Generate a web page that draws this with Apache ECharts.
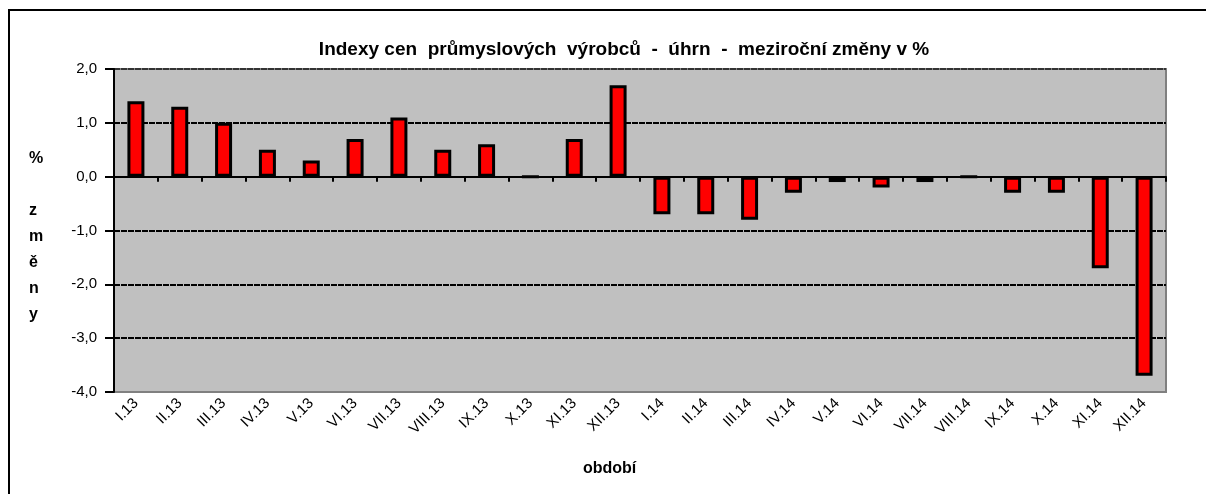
<!DOCTYPE html>
<html>
<head>
<meta charset="utf-8">
<script src="https://cdn.jsdelivr.net/npm/echarts@6/dist/echarts.min.js"></script>
<style>html,body{margin:0;padding:0;background:#fff}#c{width:1206px;height:494px}</style>
</head>
<body>
<div id="c"></div>
<script>
const categories = ['I.13','II.13','III.13','IV.13','V.13','VI.13','VII.13','VIII.13','IX.13','X.13','XI.13','XII.13',
  'I.14','II.14','III.14','IV.14','V.14','VI.14','VII.14','VIII.14','IX.14','X.14','XI.14','XII.14'];
const values = [1.4,1.3,1.0,0.5,0.3,0.7,1.1,0.5,0.6,0.0,0.7,1.7,
  -0.7,-0.7,-0.8,-0.3,-0.1,-0.2,-0.1,0.0,-0.3,-0.3,-1.7,-3.7];
const titleText = 'Indexy cen  průmyslových  výrobců  -  úhrn  -  meziroční změny v %';
const yName = '%\n\nz\nm\ně\nn\ny';
const xName = 'období';

const chart = echarts.init(document.getElementById('c'));
const font = '"Liberation Sans", Arial, sans-serif';
chart.setOption({
  animation: false,
  backgroundColor: '#fff',
  title: {
    text: titleText, left: 619, top: 35, textAlign: 'center',
    textStyle: {fontFamily: font, fontSize: 19, fontWeight: 'bold', color: '#000'}
  },
  graphic: [
    {type: 'rect', shape: {x: 9, y: 10, width: 1210, height: 500}, style: {fill: 'none', stroke: '#000', lineWidth: 2}, silent: true},
    {type: 'text', left: 29, top: 146, style: {text: yName, fontFamily: font, fontSize: 16, fontWeight: 'bold', lineHeight: 26, fill: '#000', align: 'center'}},
    {type: 'text', left: 583, top: 461, style: {text: xName, fontFamily: font, fontSize: 16, fontWeight: 'bold', fill: '#000'}}
  ],
  grid: {left: 114, right: 40, top: 69, bottom: 102, show: true, backgroundColor: '#c0c0c0', borderColor: '#808080', borderWidth: 2},
  xAxis: [
    {type: 'category', data: categories, axisLine: {onZero: true, lineStyle: {color: '#000', width: 2}},
     axisTick: {show: true, interval: 0, alignWithLabel: false, length: 5, lineStyle: {color: '#000', width: 2}},
     axisLabel: {show: false}, splitLine: {show: false}},
    {type: 'category', data: categories, position: 'bottom', axisLine: {show: false, onZero: false}, axisTick: {show: false},
     axisLabel: {rotate: 45, margin: 9, fontFamily: font, fontSize: 15, color: '#000', interval: 0}}
  ],
  yAxis: {
    type: 'value', min: -4, max: 2, interval: 1,
    axisLine: {show: true, lineStyle: {color: '#000', width: 2}},
    axisTick: {show: true, length: 9, lineStyle: {color: '#000', width: 2}},
    axisLabel: {fontFamily: font, fontSize: 15, color: '#000', margin: 17, formatter: v => v.toFixed(1).replace('.', ',')},
    splitLine: {show: true, lineStyle: {color: ['#808080','#000','#000','#000','#000','#000','#333'], width: 2, type: [6, 1]}}
  },
  series: [{
    type: 'bar', data: values, xAxisIndex: 0, barWidth: 17,
    itemStyle: {color: '#ff0000', borderColor: '#000', borderWidth: 3}
  }]
});
</script>
</body>
</html>
